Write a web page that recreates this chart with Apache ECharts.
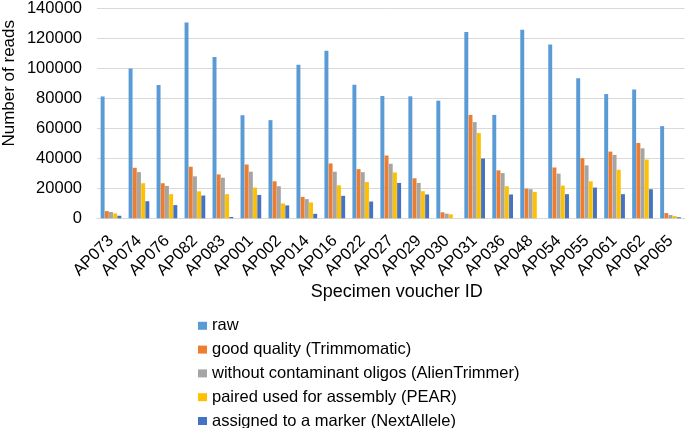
<!DOCTYPE html>
<html>
<head>
<meta charset="utf-8">
<script src="https://cdn.jsdelivr.net/npm/echarts@6/dist/echarts.min.js"></script>
<style>
html,body{margin:0;padding:0;background:#fff;}
#chart{width:685px;height:428px;}
</style>
</head>
<body>
<div id="chart"></div>
<script>
var categories = ['AP073','AP074','AP076','AP082','AP083','AP001','AP002','AP014','AP016','AP022','AP027','AP029','AP030','AP031','AP036','AP048','AP054','AP055','AP061','AP062','AP065'];
var seriesNames = ['raw','good quality (Trimmomatic)','without contaminant oligos (AlienTrimmer)','paired used for assembly (PEAR)','assigned to a marker (NextAllele)'];
var raw =        [81300,100000,88900,130700,107600,68800,65500,102500,111800,89100,81600,81400,78500,124400,69000,125900,116000,93500,82900,86000,61500];
var goodQuality =[4800,33700,23400,34400,29300,35900,24700,14300,36600,32800,41900,26700,4000,69000,32000,19800,33900,40100,44500,50300,3500];
var noOligos =   [4200,30800,21600,28000,27100,31100,21400,12800,31100,30800,36400,23600,3100,64200,30200,19400,29800,35300,42300,46700,2200];
var paired =     [3300,23400,16100,18000,16100,20500,9900,10600,22000,24200,30600,18100,2600,56900,21400,17600,21800,24700,32400,39200,1500];
var assigned =   [1700,11400,8800,15200,900,15600,8600,3000,15000,11200,23600,15900,0,39900,15900,0,16100,20500,16100,19400,700];
var yTicks = [0,20000,40000,60000,80000,100000,120000,140000];
var colors = ['#5B9BD5','#ED7D31','#A5A5A5','#FFC000','#4472C4'];

var font = '"Liberation Sans", Arial, sans-serif';
var dataSets = [raw, goodQuality, noOligos, paired, assigned];
var series = dataSets.map(function(d, i){
  return {
    name: seriesNames[i],
    type: 'bar',
    data: d,
    barGap: '6%',
    barCategoryGap: '26%',
    itemStyle: {color: colors[i]}
  };
});

var chart = echarts.init(document.getElementById('chart'), null, {renderer:'canvas'});
chart.setOption({
  animation: false,
  color: colors,
  textStyle: {fontFamily: font},
  grid: {left: 97, right: 0.5, top: 6.7, bottom: 209.7, containLabel: false},
  legend: {
    orient: 'vertical',
    left: 198,
    top: 317.3,
    height: 140,
    padding: 0,
    itemWidth: 9,
    itemHeight: 8,
    itemGap: 6.8,
    icon: 'rect',
    textStyle: {fontSize: 16.5, color: '#000', fontFamily: font, lineHeight: 16},
    data: seriesNames
  },
  xAxis: {
    type: 'category',
    data: categories,
    name: 'Specimen voucher ID',
    nameLocation: 'middle',
    nameGap: 65,
    nameTextStyle: {fontSize: 18, color: '#000', fontFamily: font, padding: [0, 0, 0, 12]},
    axisLine: {lineStyle: {color: '#d9d9d9', width: 1}},
    axisTick: {show: false},
    axisLabel: {rotate: 45, fontSize: 16.5, color: '#000', margin: 20, interval: 0, fontFamily: font}
  },
  yAxis: {
    type: 'value',
    min: yTicks[0],
    max: yTicks[yTicks.length - 1],
    interval: yTicks[1] - yTicks[0],
    axisLine: {show: false},
    axisTick: {show: false},
    axisLabel: {fontSize: 16.5, color: '#000', margin: 15, fontFamily: font,
      formatter: function(v){ return String(v); }},
    splitLine: {lineStyle: {color: '#d9d9d9', width: 1}}
  },
  graphic: [{
    type: 'text',
    x: 9,
    y: 83.3,
    rotation: Math.PI / 2,
    style: {
      text: 'Number of reads',
      font: '17px ' + font,
      fill: '#000',
      textAlign: 'center',
      textVerticalAlign: 'middle'
    }
  }],
  series: series
});
</script>
</body>
</html>
